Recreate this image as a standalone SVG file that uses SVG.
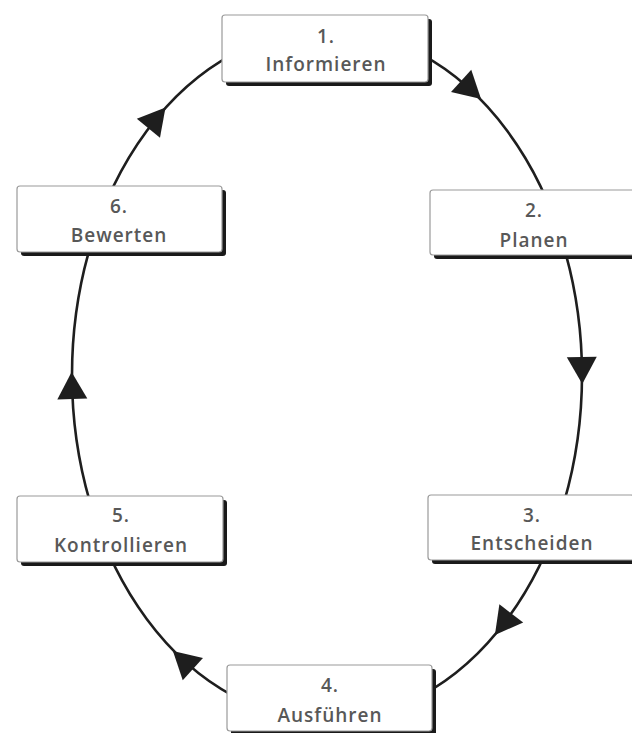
<svg xmlns="http://www.w3.org/2000/svg" width="632" height="733" viewBox="0 0 632 733">
<style>
.shadow{fill:#1a1a1a}
.box{fill:#ffffff;stroke:#9a9a9a;stroke-width:1.2}
.t{font-family:"Open Sans","Liberation Sans",sans-serif;font-weight:600;font-size:19px;fill:#585858;text-anchor:middle;letter-spacing:1px}
.ring{fill:none;stroke:#1e1e1e;stroke-width:2.6}
.arr{fill:#1e1e1e}
</style>
<defs>
<polygon id="tri" points="15,0 -12,-15 -12,15"/>
</defs>
<rect width="632" height="733" fill="#ffffff"/>
<g id="connectors">
<ellipse class="ring" cx="327" cy="375" rx="255" ry="345"/>
<use href="#tri" class="arr" transform="translate(470,89) rotate(42.4)"/>
<use href="#tri" class="arr" transform="translate(582,369) rotate(89)"/>
<use href="#tri" class="arr" transform="translate(504,623) rotate(127.4)"/>
<use href="#tri" class="arr" transform="translate(184,661) rotate(222.4)"/>
<use href="#tri" class="arr" transform="translate(72,387) rotate(268.5)"/>
<use href="#tri" class="arr" transform="translate(156,119) rotate(-50.6)"/>
</g>
<g id="node1">
<rect class="shadow" x="226" y="19" width="206" height="67" rx="3"/>
<rect class="box" x="222" y="15" width="206" height="67" rx="3"/>
<text class="t" x="326" y="43">1.</text>
<text class="t" x="326" y="71">Informieren</text>
</g>
<g id="node2">
<rect class="shadow" x="434" y="194" width="206" height="65" rx="3"/>
<rect class="box" x="430" y="190" width="206" height="65" rx="3"/>
<text class="t" x="534" y="217">2.</text>
<text class="t" x="534" y="247">Planen</text>
</g>
<g id="node3">
<rect class="shadow" x="432" y="499" width="206" height="65" rx="3"/>
<rect class="box" x="428" y="495" width="206" height="65" rx="3"/>
<text class="t" x="532" y="522">3.</text>
<text class="t" x="532" y="550">Entscheiden</text>
</g>
<g id="node4">
<rect class="shadow" x="231" y="669" width="205" height="66" rx="3"/>
<rect class="box" x="227" y="665" width="205" height="66" rx="3"/>
<text class="t" x="330" y="692">4.</text>
<text class="t" x="330" y="722">Ausführen</text>
</g>
<g id="node5">
<rect class="shadow" x="21" y="500" width="206" height="66" rx="3"/>
<rect class="box" x="17" y="496" width="206" height="66" rx="3"/>
<text class="t" x="121" y="522">5.</text>
<text class="t" x="121" y="552">Kontrollieren</text>
</g>
<g id="node6">
<rect class="shadow" x="21" y="190" width="205" height="66" rx="3"/>
<rect class="box" x="17" y="186" width="205" height="66" rx="3"/>
<text class="t" x="119" y="213">6.</text>
<text class="t" x="119" y="242">Bewerten</text>
</g>
</svg>
